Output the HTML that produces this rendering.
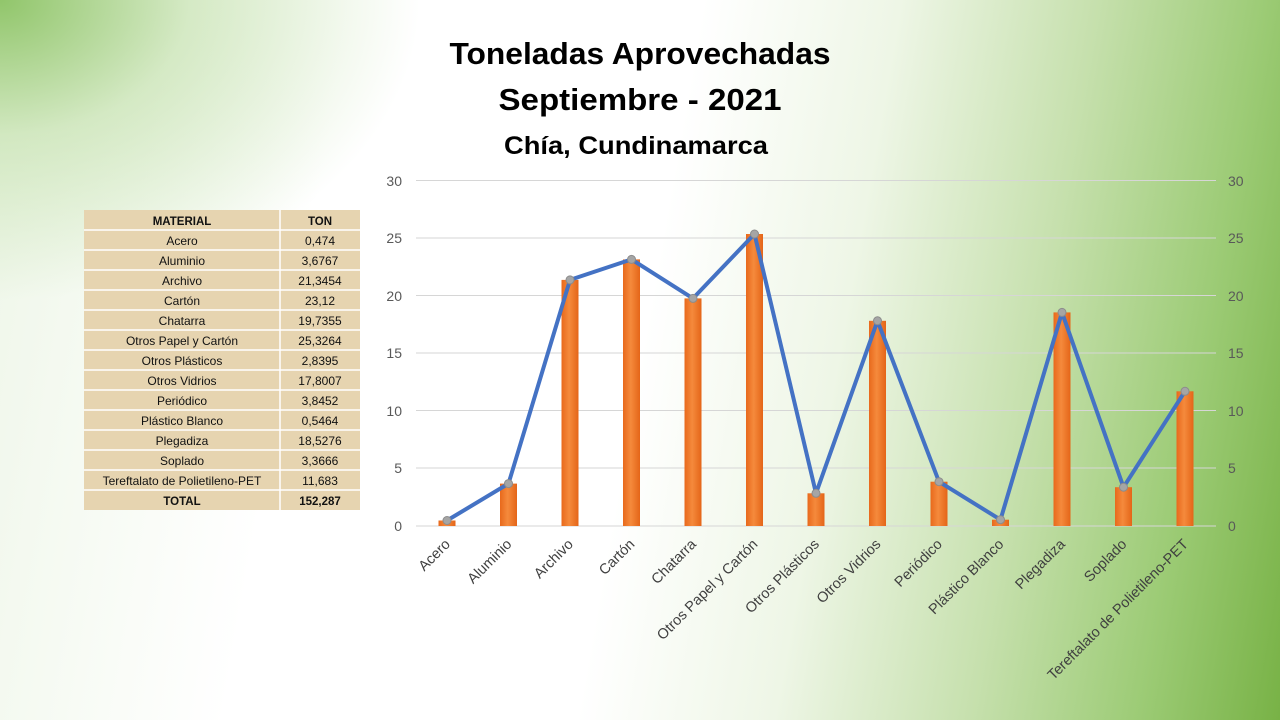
<!DOCTYPE html>
<html><head><meta charset="utf-8"><style>
html,body{margin:0;padding:0}
body{width:1280px;height:720px;overflow:hidden;position:relative;font-family:"Liberation Sans",sans-serif;
background:radial-gradient(ellipse 420px 300px at 0% 0%, rgba(140,195,100,0.95) 0%, rgba(190,222,165,0.6) 45%, rgba(255,255,255,0) 100%),
linear-gradient(100deg,#eef6e8 0%,#ffffff 25%,#ffffff 50%,#eef6e6 64%,#c6e0ad 78%,#9ccb75 90%,#78b246 100%);}
svg{position:absolute;left:0;top:0}
</style></head><body>
<svg width="1280" height="720" viewBox="0 0 1280 720">
<defs>
<linearGradient id="bar" x1="0" y1="0" x2="1" y2="0">
<stop offset="0" stop-color="#e8691c"/><stop offset="0.45" stop-color="#f58a3c"/><stop offset="1" stop-color="#e46518"/>
</linearGradient>
</defs>
<g font-family="Liberation Sans, sans-serif" font-weight="bold" fill="#000" text-anchor="middle">
<text x="640" y="64" font-size="31" textLength="381" lengthAdjust="spacingAndGlyphs">Toneladas Aprovechadas</text>
<text x="640" y="110" font-size="31" textLength="283" lengthAdjust="spacingAndGlyphs">Septiembre - 2021</text>
<text x="636" y="154" font-size="25" textLength="264" lengthAdjust="spacingAndGlyphs">Chía, Cundinamarca</text>
</g>
<g font-family="Liberation Sans, sans-serif" font-size="12" fill="#111" text-anchor="middle">
<rect x="84" y="210" width="276" height="300" fill="#e6d4b0"/>
<g stroke="#ffffff" stroke-width="1.5">
<line x1="280" y1="210" x2="280" y2="510"/>
<line x1="84" y1="230" x2="360" y2="230"/><line x1="84" y1="250" x2="360" y2="250"/><line x1="84" y1="270" x2="360" y2="270"/>
<line x1="84" y1="290" x2="360" y2="290"/><line x1="84" y1="310" x2="360" y2="310"/><line x1="84" y1="330" x2="360" y2="330"/>
<line x1="84" y1="350" x2="360" y2="350"/><line x1="84" y1="370" x2="360" y2="370"/><line x1="84" y1="390" x2="360" y2="390"/>
<line x1="84" y1="410" x2="360" y2="410"/><line x1="84" y1="430" x2="360" y2="430"/><line x1="84" y1="450" x2="360" y2="450"/>
<line x1="84" y1="470" x2="360" y2="470"/><line x1="84" y1="490" x2="360" y2="490"/>
</g>
<text x="182" y="225" font-weight="bold" font-size="11.5">MATERIAL</text><text x="320" y="225" font-weight="bold" font-size="11.5">TON</text>
<text x="182" y="245">Acero</text><text x="320" y="245">0,474</text>
<text x="182" y="265">Aluminio</text><text x="320" y="265">3,6767</text>
<text x="182" y="285">Archivo</text><text x="320" y="285">21,3454</text>
<text x="182" y="305">Cartón</text><text x="320" y="305">23,12</text>
<text x="182" y="325">Chatarra</text><text x="320" y="325">19,7355</text>
<text x="182" y="345">Otros Papel y Cartón</text><text x="320" y="345">25,3264</text>
<text x="182" y="365">Otros Plásticos</text><text x="320" y="365">2,8395</text>
<text x="182" y="385">Otros Vidrios</text><text x="320" y="385">17,8007</text>
<text x="182" y="405">Periódico</text><text x="320" y="405">3,8452</text>
<text x="182" y="425">Plástico Blanco</text><text x="320" y="425">0,5464</text>
<text x="182" y="445">Plegadiza</text><text x="320" y="445">18,5276</text>
<text x="182" y="465">Soplado</text><text x="320" y="465">3,3666</text>
<text x="182" y="485">Tereftalato de Polietileno-PET</text><text x="320" y="485">11,683</text>
<text x="182" y="505" font-weight="bold" font-size="11.5">TOTAL</text><text x="320" y="505" font-weight="bold" font-size="11.5">152,287</text>
</g>
<g stroke="#d6d6d6" stroke-width="1">
<line x1="416" y1="180.5" x2="1216" y2="180.5"/><line x1="416" y1="238" x2="1216" y2="238"/>
<line x1="416" y1="295.5" x2="1216" y2="295.5"/><line x1="416" y1="353" x2="1216" y2="353"/>
<line x1="416" y1="410.5" x2="1216" y2="410.5"/><line x1="416" y1="468" x2="1216" y2="468"/>
<line x1="416" y1="526" x2="1216" y2="526"/>
</g>
<g font-size="14" fill="#595959" font-family="Liberation Sans, sans-serif">
<g text-anchor="end">
<text x="402" y="186">30</text><text x="402" y="243">25</text><text x="402" y="301">20</text><text x="402" y="358">15</text><text x="402" y="416">10</text><text x="402" y="473">5</text><text x="402" y="531">0</text>
</g>
<g text-anchor="start">
<text x="1228" y="186">30</text><text x="1228" y="243">25</text><text x="1228" y="301">20</text><text x="1228" y="358">15</text><text x="1228" y="416">10</text><text x="1228" y="473">5</text><text x="1228" y="531">0</text>
</g>
</g>
<g fill="url(#bar)">
<rect x="438.5" y="520.5" width="17" height="5.5"/>
<rect x="500" y="483.6" width="17" height="42.4"/>
<rect x="561.5" y="279.9" width="17" height="246.1"/>
<rect x="623" y="259.4" width="17" height="266.6"/>
<rect x="684.5" y="298.4" width="17" height="227.6"/>
<rect x="746" y="234" width="17" height="292"/>
<rect x="807.5" y="493.3" width="17" height="32.7"/>
<rect x="869" y="320.8" width="17" height="205.2"/>
<rect x="930.5" y="481.7" width="17" height="44.3"/>
<rect x="992" y="519.7" width="17" height="6.3"/>
<rect x="1053.5" y="312.4" width="17" height="213.6"/>
<rect x="1115" y="487.2" width="17" height="38.8"/>
<rect x="1176.5" y="391.3" width="17" height="134.7"/>
</g>
<polyline fill="none" stroke="#4472c4" stroke-width="4" stroke-linejoin="round"
points="447,520.5 508.5,483.6 570,279.9 631.5,259.4 693,298.4 754.5,234 816,493.3 877.5,320.8 939,481.7 1000.5,519.7 1062,312.4 1123.5,487.2 1185,391.3"/>
<g fill="#a5a5a5" stroke="#8c8c8c" stroke-width="1">
<circle cx="447" cy="520.5" r="4"/><circle cx="508.5" cy="483.6" r="4"/><circle cx="570" cy="279.9" r="4"/>
<circle cx="631.5" cy="259.4" r="4"/><circle cx="693" cy="298.4" r="4"/><circle cx="754.5" cy="234" r="4"/>
<circle cx="816" cy="493.3" r="4"/><circle cx="877.5" cy="320.8" r="4"/><circle cx="939" cy="481.7" r="4"/>
<circle cx="1000.5" cy="519.7" r="4"/><circle cx="1062" cy="312.4" r="4"/><circle cx="1123.5" cy="487.2" r="4"/>
<circle cx="1185" cy="391.3" r="4"/>
</g>
<g font-size="14.5" fill="#404040" text-anchor="end" font-family="Liberation Sans, sans-serif">
<text transform="translate(451,545) rotate(-45)">Acero</text>
<text transform="translate(512.5,545) rotate(-45)">Aluminio</text>
<text transform="translate(574,545) rotate(-45)">Archivo</text>
<text transform="translate(635.5,545) rotate(-45)">Cartón</text>
<text transform="translate(697,545) rotate(-45)">Chatarra</text>
<text transform="translate(758.5,545) rotate(-45)">Otros Papel y Cartón</text>
<text transform="translate(820,545) rotate(-45)">Otros Plásticos</text>
<text transform="translate(881.5,545) rotate(-45)">Otros Vidrios</text>
<text transform="translate(943,545) rotate(-45)">Periódico</text>
<text transform="translate(1004.5,545) rotate(-45)">Plástico Blanco</text>
<text transform="translate(1066,545) rotate(-45)">Plegadiza</text>
<text transform="translate(1127.5,545) rotate(-45)">Soplado</text>
<text transform="translate(1189,545) rotate(-45)">Tereftalato de Polietileno-PET</text>
</g>
</svg>
</body></html>
